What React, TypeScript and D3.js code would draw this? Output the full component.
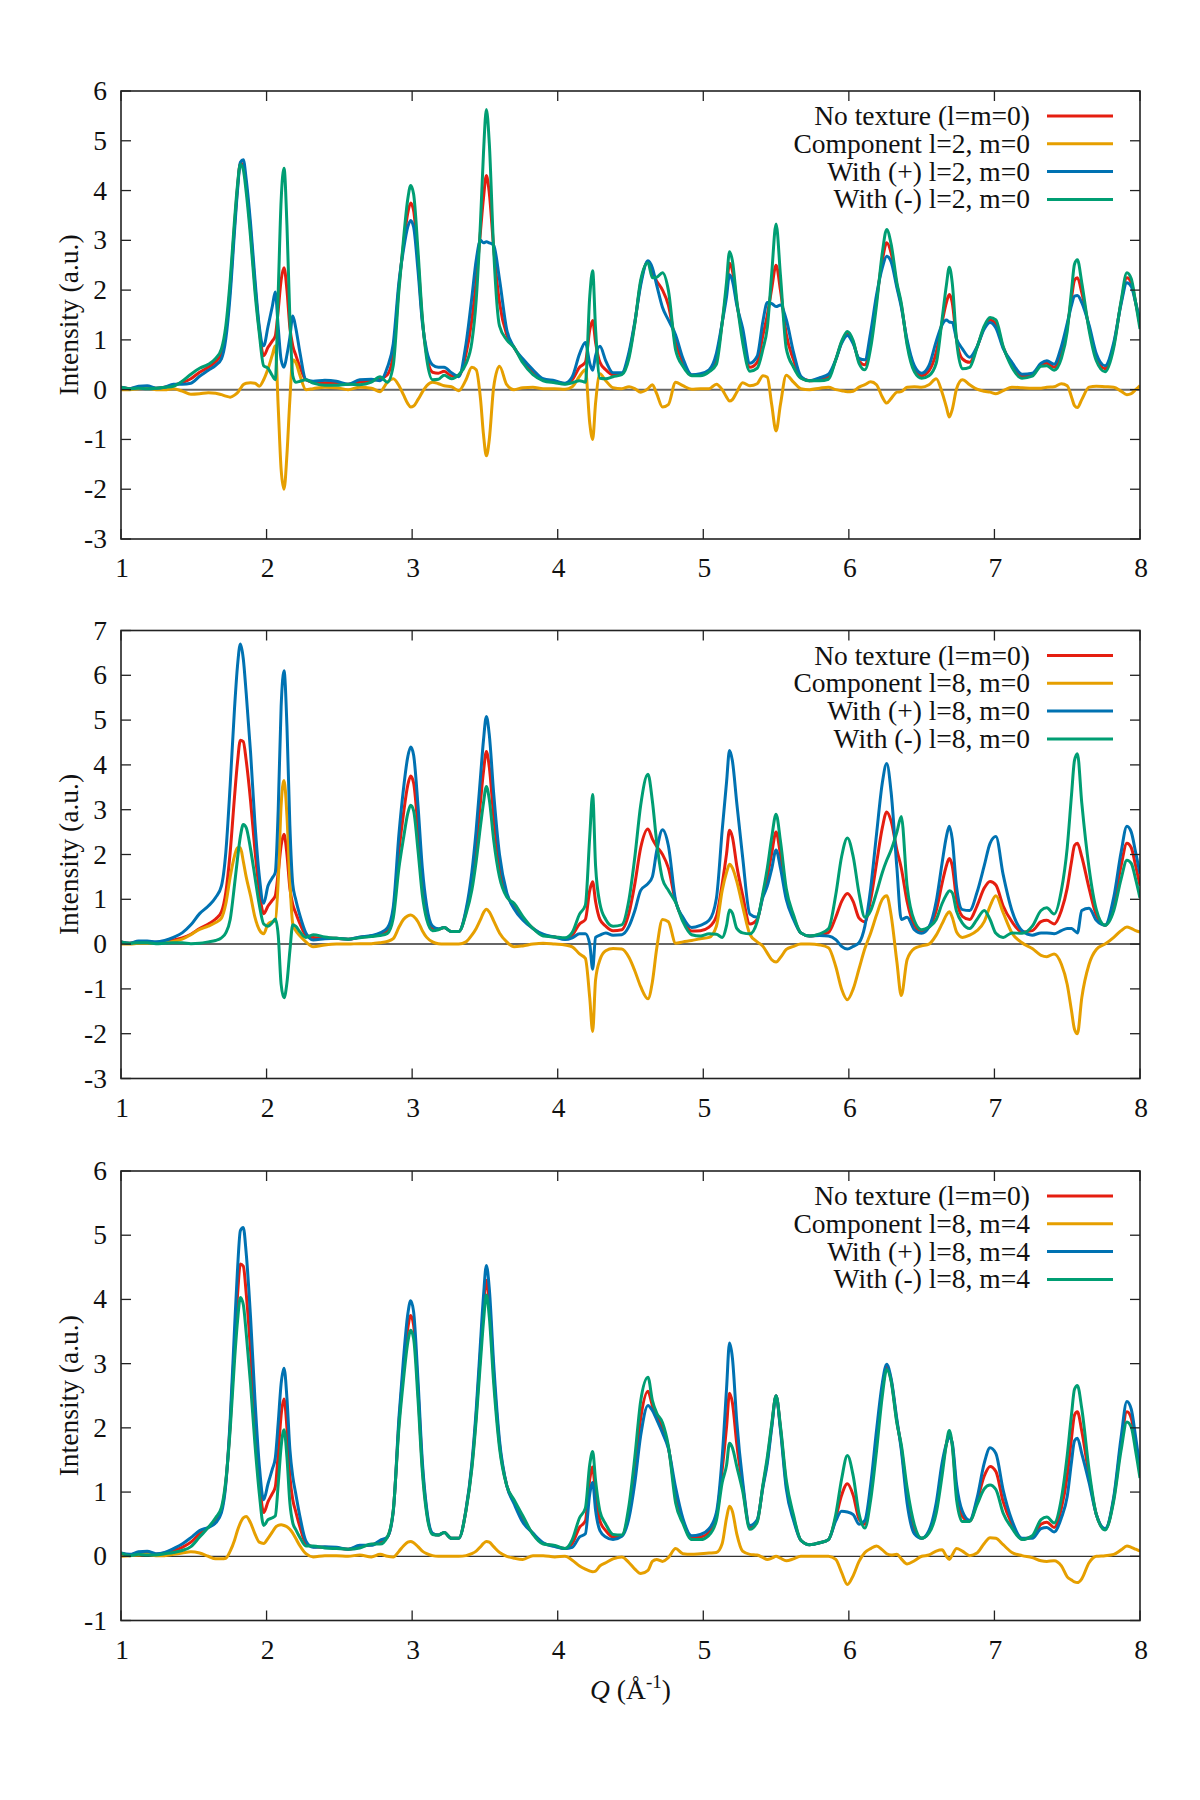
import { useEffect, useRef } from "react";
import * as d3 from "d3";

// momentum transfer grid shared by every curve (Å^-1)
const Q = [
  1.0, 1.06, 1.12, 1.18, 1.24, 1.3, 1.36, 1.42, 1.48, 1.54,
  1.6, 1.65, 1.69, 1.72, 1.75, 1.78, 1.8, 1.82, 1.84, 1.86,
  1.89, 1.92, 1.95, 1.98, 2.01, 2.04, 2.06, 2.08, 2.1, 2.12,
  2.14, 2.16, 2.18, 2.2, 2.23, 2.27, 2.32, 2.4, 2.48, 2.56,
  2.64, 2.72, 2.78, 2.83, 2.87, 2.91, 2.94, 2.97, 2.99, 3.01,
  3.04, 3.07, 3.1, 3.14, 3.18, 3.22, 3.27, 3.32, 3.37, 3.41,
  3.44, 3.47, 3.49, 3.51, 3.53, 3.56, 3.6, 3.65, 3.7, 3.76,
  3.83, 3.9, 3.98, 4.05, 4.1, 4.15, 4.19, 4.22, 4.24, 4.26,
  4.29, 4.33, 4.38, 4.44, 4.49, 4.53, 4.57, 4.62, 4.65, 4.68,
  4.72, 4.76, 4.81, 4.86, 4.92, 4.98, 5.04, 5.09, 5.13, 5.16,
  5.18, 5.2, 5.23, 5.27, 5.32, 5.37, 5.41, 5.44, 5.47, 5.5,
  5.53, 5.57, 5.62, 5.67, 5.73, 5.8, 5.86, 5.91, 5.95, 5.99,
  6.03, 6.07, 6.11, 6.15, 6.19, 6.23, 6.26, 6.29, 6.33, 6.36,
  6.4, 6.45, 6.5, 6.55, 6.6, 6.64, 6.67, 6.69, 6.71, 6.74,
  6.78, 6.83, 6.88, 6.93, 6.97, 7.01, 7.06, 7.12, 7.19, 7.26,
  7.32, 7.36, 7.41, 7.46, 7.5, 7.53, 7.55, 7.57, 7.6, 7.65,
  7.7, 7.76, 7.82, 7.87, 7.91, 7.94, 7.97, 8.0,
];

// untextured pattern, identical in all three panels
const noTexture = [
  0.05, 0.02, 0.05, 0.05, 0.03, 0.05, 0.09, 0.14, 0.22, 0.35,
  0.45, 0.56, 0.72, 1.15, 2.05, 3.3, 4.05, 4.55, 4.52, 4.1,
  3.2, 2.1, 1.2, 0.68, 0.85, 0.98, 1.08, 1.6, 2.2, 2.45,
  2.0, 1.25, 0.88, 0.7, 0.45, 0.2, 0.15, 0.14, 0.13, 0.11,
  0.15, 0.18, 0.22, 0.3, 0.7, 2.1, 2.9, 3.55, 3.75, 3.6,
  2.6, 1.4, 0.7, 0.35, 0.33, 0.37, 0.28, 0.28, 0.72, 1.4,
  2.2, 3.2, 3.85, 4.3, 3.95, 2.85, 1.75, 1.1, 0.85, 0.58,
  0.35, 0.2, 0.16, 0.12, 0.2, 0.45, 0.55, 1.2, 1.39, 0.95,
  0.55, 0.4, 0.3, 0.32, 0.7, 1.35, 2.15, 2.57, 2.35, 2.18,
  2.0, 1.7, 0.95, 0.55, 0.29, 0.3, 0.38, 0.62, 1.35, 2.02,
  2.54, 2.39, 1.75, 1.1, 0.45, 0.55, 1.1, 1.5, 2.03, 2.5,
  2.0, 1.12, 0.6, 0.25, 0.18, 0.21, 0.26, 0.6, 0.95, 1.13,
  0.95, 0.58, 0.5, 1.0, 1.8, 2.6, 2.95, 2.75, 2.1, 1.7,
  0.95, 0.42, 0.28, 0.38, 0.75, 1.35, 1.75, 1.91, 1.75, 1.0,
  0.62, 0.55, 0.85, 1.25, 1.4, 1.32, 0.85, 0.5, 0.27, 0.3,
  0.5, 0.53, 0.45, 0.75, 1.25, 1.85, 2.2, 2.25, 1.95, 1.25,
  0.65, 0.42, 0.9, 1.75, 2.25, 2.15, 1.75, 1.3,
];

// l=2, m=0
const compL2M0 = [
  0.0, 0.0, 0.02, 0.03, 0.0, 0.0, 0.02, -0.03, -0.09, -0.08,
  -0.06, -0.07, -0.1, -0.13, -0.15, -0.11, -0.06, 0.02, 0.1, 0.13,
  0.14, 0.13, 0.07, 0.2, 0.42, 0.7, 0.88, -0.35, -1.6, -2.0,
  -1.3, -0.2, 0.6, 0.55, 0.28, 0.0, 0.02, 0.05, 0.04, 0.0,
  0.05, 0.03, -0.04, 0.15, 0.22, 0.08, -0.1, -0.28, -0.35, -0.33,
  -0.2, -0.05, 0.08, 0.15, 0.12, 0.08, 0.06, -0.02, 0.2, 0.45,
  0.4, -0.2, -0.9, -1.33, -1.0, 0.05, 0.47, 0.1, 0.0, 0.04,
  0.05, 0.02, 0.02, 0.01, 0.06, 0.27, 0.4, -0.67, -1.0, -0.27,
  0.32, 0.18, 0.04, 0.02, 0.06, 0.02, -0.05, 0.02, 0.1, -0.08,
  -0.35, -0.3, 0.15, 0.08, 0.01, 0.02, 0.02, 0.11, 0.0, -0.15,
  -0.23, -0.2, -0.05, 0.14, 0.08, 0.12, 0.28, 0.25, -0.3, -0.83,
  -0.3, 0.29, 0.15, 0.02, 0.0, 0.03, 0.05, 0.0, -0.02, -0.04,
  -0.03, 0.05, 0.1, 0.16, 0.1, -0.15, -0.27, -0.18, -0.05, -0.04,
  0.05, 0.06, 0.05, 0.1, 0.22, -0.05, -0.35, -0.55, -0.4, 0.02,
  0.2, 0.1, 0.01, -0.03, -0.05, -0.08, -0.02, 0.05, 0.04, 0.03,
  0.03, 0.05, 0.06, 0.12, 0.08, -0.15, -0.32, -0.36, -0.2, 0.05,
  0.07, 0.06, 0.05, -0.03, -0.1, -0.08, 0.0, 0.08,
];
const plusL2M0 = [
  0.05, 0.02, 0.07, 0.08, 0.03, 0.05, 0.11, 0.11, 0.13, 0.27,
  0.39, 0.49, 0.62, 1.02, 1.9, 3.19, 3.99, 4.57, 4.62, 4.23,
  3.34, 2.23, 1.27, 0.88, 1.27, 1.68, 1.96, 1.25, 0.6, 0.45,
  0.7, 1.05, 1.48, 1.25, 0.73, 0.2, 0.17, 0.19, 0.17, 0.11,
  0.2, 0.21, 0.18, 0.45, 0.92, 2.18, 2.8, 3.27, 3.4, 3.27,
  2.4, 1.35, 0.78, 0.5, 0.45, 0.45, 0.34, 0.26, 0.92, 1.85,
  2.6, 3.0, 2.95, 2.97, 2.95, 2.9, 2.22, 1.2, 0.85, 0.62,
  0.4, 0.22, 0.18, 0.13, 0.26, 0.72, 0.95, 0.53, 0.39, 0.68,
  0.87, 0.58, 0.34, 0.34, 0.76, 1.37, 2.1, 2.59, 2.45, 2.1,
  1.65, 1.4, 1.1, 0.63, 0.3, 0.32, 0.4, 0.73, 1.35, 1.87,
  2.31, 2.19, 1.7, 1.24, 0.53, 0.67, 1.38, 1.75, 1.73, 1.67,
  1.7, 1.41, 0.75, 0.27, 0.18, 0.24, 0.31, 0.6, 0.93, 1.09,
  0.92, 0.63, 0.6, 1.16, 1.9, 2.45, 2.68, 2.57, 2.05, 1.66,
  1.0, 0.48, 0.33, 0.48, 0.97, 1.3, 1.4, 1.36, 1.35, 1.02,
  0.82, 0.65, 0.86, 1.22, 1.35, 1.24, 0.83, 0.55, 0.31, 0.33,
  0.53, 0.58, 0.51, 0.87, 1.33, 1.7, 1.88, 1.89, 1.75, 1.3,
  0.72, 0.48, 0.95, 1.72, 2.15, 2.07, 1.75, 1.38,
];
const minusL2M0 = [
  0.05, 0.02, 0.03, 0.02, 0.03, 0.05, 0.07, 0.17, 0.31, 0.43,
  0.51, 0.63, 0.82, 1.28, 2.2, 3.41, 4.11, 4.53, 4.42, 3.97,
  3.06, 1.97, 1.13, 0.48, 0.43, 0.28, 0.2, 1.95, 3.8, 4.45,
  3.3, 1.45, 0.28, 0.15, 0.17, 0.2, 0.13, 0.09, 0.09, 0.11,
  0.1, 0.15, 0.26, 0.15, 0.48, 2.02, 3.0, 3.83, 4.1, 3.93,
  2.8, 1.45, 0.62, 0.2, 0.21, 0.29, 0.22, 0.3, 0.52, 0.95,
  1.8, 3.4, 4.75, 5.63, 4.95, 2.8, 1.28, 1.0, 0.85, 0.54,
  0.3, 0.18, 0.14, 0.11, 0.14, 0.18, 0.15, 1.87, 2.39, 1.22,
  0.23, 0.22, 0.26, 0.3, 0.64, 1.33, 2.2, 2.55, 2.25, 2.26,
  2.35, 2.0, 0.8, 0.47, 0.28, 0.28, 0.36, 0.51, 1.35, 2.17,
  2.77, 2.59, 1.8, 0.96, 0.37, 0.43, 0.82, 1.25, 2.33, 3.33,
  2.3, 0.83, 0.45, 0.23, 0.18, 0.18, 0.21, 0.6, 0.97, 1.17,
  0.98, 0.53, 0.4, 0.84, 1.7, 2.75, 3.22, 2.93, 2.15, 1.74,
  0.9, 0.36, 0.23, 0.28, 0.53, 1.4, 2.1, 2.46, 2.15, 0.98,
  0.42, 0.45, 0.84, 1.28, 1.45, 1.4, 0.87, 0.45, 0.23, 0.27,
  0.47, 0.48, 0.39, 0.63, 1.17, 2.0, 2.52, 2.61, 2.15, 1.2,
  0.58, 0.36, 0.85, 1.78, 2.35, 2.23, 1.75, 1.22,
];

// l=8, m=0
const compL8M0 = [
  0.0, 0.0, 0.02, 0.02, 0.02, 0.03, 0.06, 0.11, 0.21, 0.33,
  0.4, 0.48, 0.58, 0.9, 1.5, 1.97, 2.15, 2.15, 1.85, 1.5,
  1.08, 0.6, 0.32, 0.23, 0.45, 0.5, 0.52, 1.4, 3.1, 3.65,
  2.86, 1.4, 0.45, 0.3, 0.18, 0.05, -0.06, -0.02, 0.0, 0.0,
  0.01, 0.01, 0.03, 0.06, 0.12, 0.38, 0.55, 0.63, 0.65, 0.62,
  0.5, 0.3, 0.15, 0.05, 0.01, 0.0, 0.0, 0.0, 0.05, 0.2,
  0.35, 0.55, 0.7, 0.78, 0.72, 0.52, 0.25, 0.05, -0.06, -0.04,
  0.0, 0.02, 0.0, -0.02, -0.06, -0.22, -0.32, -1.2, -1.95, -0.8,
  -0.35, -0.15, -0.1, -0.11, -0.3, -0.6, -0.95, -1.22, -0.85, -0.1,
  0.55, 0.5, 0.02, 0.05, 0.08, 0.12, 0.15, 0.4, 1.2, 1.6,
  1.78, 1.7, 1.4, 0.85, 0.22, 0.05, -0.05, -0.2, -0.35, -0.4,
  -0.3, -0.12, -0.05, 0.0, 0.0, -0.02, -0.08, -0.5, -1.0, -1.24,
  -1.0, -0.55, -0.1, 0.25, 0.65, 1.0, 1.08, 0.65, -0.4, -1.15,
  -0.35, -0.1, -0.04, 0.0, 0.2, 0.45, 0.65, 0.72, 0.6, 0.27,
  0.15, 0.2, 0.3, 0.5, 0.85, 1.08, 0.7, 0.25, 0.03, -0.1,
  -0.25, -0.28, -0.22, -0.45, -0.9, -1.5, -1.9, -2.0, -1.2, -0.45,
  -0.12, 0.0, 0.15, 0.3, 0.38, 0.35, 0.3, 0.27,
];
const plusL8M0 = [
  0.05, 0.02, 0.07, 0.07, 0.05, 0.08, 0.15, 0.25, 0.43, 0.68,
  0.85, 1.04, 1.3, 2.05, 3.55, 5.27, 6.2, 6.7, 6.37, 5.6,
  4.28, 2.7, 1.52, 0.91, 1.3, 1.48, 1.6, 3.0, 5.3, 6.1,
  4.86, 2.65, 1.33, 1.0, 0.63, 0.25, 0.09, 0.12, 0.13, 0.11,
  0.16, 0.19, 0.25, 0.36, 0.82, 2.48, 3.45, 4.18, 4.4, 4.22,
  3.1, 1.7, 0.85, 0.4, 0.34, 0.37, 0.28, 0.28, 0.77, 1.6,
  2.55, 3.75, 4.55, 5.08, 4.67, 3.37, 2.0, 1.15, 0.79, 0.54,
  0.35, 0.22, 0.16, 0.1, 0.14, 0.23, 0.23, 0.0, -0.56, 0.15,
  0.2, 0.25, 0.2, 0.21, 0.4, 0.75, 1.2, 1.35, 1.5, 2.08,
  2.55, 2.2, 0.97, 0.6, 0.37, 0.42, 0.53, 1.02, 2.55, 3.62,
  4.32, 4.09, 3.15, 1.95, 0.67, 0.6, 1.05, 1.3, 1.68, 2.1,
  1.7, 1.0, 0.55, 0.25, 0.18, 0.19, 0.18, 0.1, -0.05, -0.11,
  -0.05, 0.03, 0.4, 1.25, 2.45, 3.6, 4.03, 3.4, 1.7, 0.55,
  0.6, 0.32, 0.24, 0.38, 0.95, 1.8, 2.4, 2.63, 2.35, 1.27,
  0.77, 0.75, 1.15, 1.75, 2.25, 2.4, 1.55, 0.75, 0.3, 0.2,
  0.25, 0.25, 0.23, 0.3, 0.35, 0.35, 0.3, 0.25, 0.75, 0.8,
  0.53, 0.42, 1.05, 2.05, 2.63, 2.5, 2.05, 1.57,
];
const minusL8M0 = [
  0.05, 0.02, 0.03, 0.03, 0.01, 0.02, 0.03, 0.03, 0.01, 0.02,
  0.05, 0.08, 0.14, 0.25, 0.55, 1.33, 1.9, 2.4, 2.67, 2.6,
  2.12, 1.5, 0.88, 0.45, 0.4, 0.48, 0.56, 0.2, -0.9, -1.2,
  -0.86, -0.15, 0.43, 0.4, 0.27, 0.15, 0.21, 0.16, 0.13, 0.11,
  0.14, 0.17, 0.19, 0.24, 0.58, 1.72, 2.35, 2.92, 3.1, 2.98,
  2.1, 1.1, 0.55, 0.3, 0.32, 0.37, 0.28, 0.28, 0.67, 1.2,
  1.85, 2.65, 3.15, 3.52, 3.23, 2.33, 1.5, 1.05, 0.91, 0.62,
  0.35, 0.18, 0.16, 0.14, 0.26, 0.67, 0.87, 2.4, 3.34, 1.75,
  0.9, 0.55, 0.4, 0.43, 1.0, 1.95, 3.1, 3.79, 3.2, 2.28,
  1.45, 1.2, 0.93, 0.5, 0.21, 0.18, 0.23, 0.22, 0.15, 0.42,
  0.76, 0.69, 0.35, 0.25, 0.23, 0.5, 1.15, 1.7, 2.38, 2.9,
  2.3, 1.24, 0.65, 0.25, 0.18, 0.23, 0.34, 1.1, 1.95, 2.37,
  1.95, 1.13, 0.6, 0.75, 1.15, 1.6, 1.87, 2.1, 2.5, 2.85,
  1.3, 0.52, 0.32, 0.38, 0.55, 0.9, 1.1, 1.19, 1.15, 0.73,
  0.47, 0.35, 0.55, 0.75, 0.55, 0.24, 0.15, 0.25, 0.24, 0.4,
  0.75, 0.81, 0.67, 1.2, 2.15, 3.35, 4.1, 4.25, 3.15, 1.7,
  0.77, 0.42, 0.75, 1.45, 1.87, 1.8, 1.45, 1.03,
];

// l=8, m=4
const compL8M4 = [
  0.0, 0.01, 0.02, 0.03, 0.01, 0.01, 0.03, 0.05, 0.07, 0.05,
  0.0, -0.04, -0.04, -0.03, 0.08, 0.25, 0.4, 0.52, 0.6, 0.62,
  0.52, 0.35, 0.22, 0.2, 0.28, 0.38, 0.45, 0.48, 0.49, 0.48,
  0.46, 0.42, 0.36, 0.28, 0.16, 0.04, -0.01, 0.01, 0.01, 0.0,
  0.02, -0.01, 0.03, 0.0, -0.01, 0.08, 0.16, 0.22, 0.23, 0.21,
  0.15, 0.08, 0.04, 0.01, 0.0, 0.0, 0.0, 0.0, 0.01, 0.04,
  0.08, 0.15, 0.2, 0.23, 0.22, 0.15, 0.06, 0.0, -0.03, -0.05,
  0.01, 0.01, -0.01, 0.0, -0.06, -0.15, -0.2, -0.23, -0.24, -0.23,
  -0.15, -0.1, -0.04, -0.01, -0.1, -0.2, -0.27, -0.22, -0.08, -0.05,
  -0.08, -0.02, 0.12, 0.04, 0.03, 0.04, 0.05, 0.06, 0.2, 0.6,
  0.78, 0.7, 0.35, 0.08, 0.03, 0.02, -0.02, -0.05, -0.03, 0.0,
  -0.03, -0.07, -0.04, 0.0, 0.0, 0.0, 0.0, -0.05, -0.25, -0.44,
  -0.3, -0.08, 0.06, 0.12, 0.16, 0.1, 0.04, 0.02, 0.03, -0.04,
  -0.12, -0.07, 0.0, 0.02, 0.08, 0.1, 0.0, -0.05, 0.02, 0.12,
  0.08, 0.01, 0.05, 0.2, 0.29, 0.28, 0.18, 0.06, 0.01, -0.02,
  -0.07, -0.08, -0.07, -0.15, -0.32, -0.37, -0.4, -0.41, -0.35, -0.1,
  0.0, 0.01, 0.03, 0.1, 0.16, 0.14, 0.11, 0.08,
];
const plusL8M4 = [
  0.05, 0.03, 0.07, 0.08, 0.04, 0.06, 0.12, 0.19, 0.29, 0.4,
  0.45, 0.52, 0.68, 1.12, 2.13, 3.55, 4.45, 5.07, 5.12, 4.72,
  3.72, 2.45, 1.42, 0.88, 1.13, 1.36, 1.53, 2.08, 2.69, 2.93,
  2.46, 1.67, 1.24, 0.98, 0.61, 0.24, 0.14, 0.15, 0.14, 0.11,
  0.17, 0.17, 0.25, 0.3, 0.69, 2.18, 3.06, 3.77, 3.98, 3.81,
  2.75, 1.48, 0.74, 0.36, 0.33, 0.37, 0.28, 0.28, 0.73, 1.44,
  2.28, 3.35, 4.05, 4.53, 4.17, 3.0, 1.81, 1.1, 0.82, 0.53,
  0.36, 0.21, 0.15, 0.12, 0.14, 0.3, 0.35, 0.97, 1.15, 0.72,
  0.4, 0.3, 0.26, 0.31, 0.6, 1.15, 1.88, 2.35, 2.27, 2.13,
  1.92, 1.68, 1.07, 0.59, 0.32, 0.34, 0.43, 0.68, 1.55, 2.62,
  3.32, 3.09, 2.1, 1.18, 0.48, 0.57, 1.08, 1.45, 2.0, 2.5,
  1.97, 1.05, 0.56, 0.25, 0.18, 0.21, 0.26, 0.55, 0.7, 0.69,
  0.65, 0.5, 0.56, 1.12, 1.96, 2.7, 2.99, 2.77, 2.13, 1.66,
  0.83, 0.35, 0.28, 0.4, 0.83, 1.45, 1.75, 1.86, 1.77, 1.12,
  0.7, 0.56, 0.9, 1.45, 1.69, 1.6, 1.03, 0.56, 0.28, 0.28,
  0.43, 0.45, 0.38, 0.6, 0.93, 1.48, 1.8, 1.84, 1.6, 1.15,
  0.65, 0.43, 0.93, 1.85, 2.41, 2.29, 1.86, 1.38,
];
const minusL8M4 = [
  0.05, 0.01, 0.03, 0.02, 0.02, 0.04, 0.06, 0.09, 0.15, 0.3,
  0.45, 0.6, 0.76, 1.18, 1.97, 3.05, 3.65, 4.03, 3.92, 3.48,
  2.68, 1.75, 0.98, 0.48, 0.57, 0.6, 0.63, 1.12, 1.71, 1.97,
  1.54, 0.83, 0.52, 0.42, 0.29, 0.16, 0.16, 0.13, 0.12, 0.11,
  0.13, 0.19, 0.19, 0.3, 0.71, 2.02, 2.74, 3.33, 3.52, 3.39,
  2.45, 1.32, 0.66, 0.34, 0.33, 0.37, 0.28, 0.28, 0.71, 1.36,
  2.12, 3.05, 3.65, 4.07, 3.73, 2.7, 1.69, 1.1, 0.88, 0.63,
  0.34, 0.19, 0.17, 0.12, 0.26, 0.6, 0.75, 1.43, 1.63, 1.18,
  0.7, 0.5, 0.34, 0.33, 0.8, 1.55, 2.42, 2.79, 2.43, 2.23,
  2.08, 1.72, 0.83, 0.51, 0.26, 0.26, 0.33, 0.56, 1.15, 1.42,
  1.76, 1.69, 1.4, 1.02, 0.42, 0.53, 1.12, 1.55, 2.06, 2.5,
  2.03, 1.19, 0.64, 0.25, 0.18, 0.21, 0.26, 0.65, 1.2, 1.57,
  1.25, 0.66, 0.44, 0.88, 1.64, 2.5, 2.91, 2.73, 2.07, 1.74,
  1.07, 0.49, 0.28, 0.36, 0.67, 1.25, 1.75, 1.96, 1.73, 0.88,
  0.54, 0.54, 0.8, 1.05, 1.11, 1.04, 0.67, 0.44, 0.26, 0.32,
  0.57, 0.61, 0.52, 0.9, 1.57, 2.22, 2.6, 2.66, 2.3, 1.35,
  0.65, 0.41, 0.87, 1.65, 2.09, 2.01, 1.64, 1.22,
];

const xTicks = [1, 2, 3, 4, 5, 6, 7, 8];
const yTicksL2M0 = [-3, -2, -1, 0, 1, 2, 3, 4, 5, 6];
const yTicksL8M0 = [-3, -2, -1, 0, 1, 2, 3, 4, 5, 6, 7];
const yTicksL8M4 = [-1, 0, 1, 2, 3, 4, 5, 6];

const labelsL2M0 = ["No texture (l=m=0)", "Component l=2, m=0", "With (+) l=2, m=0", "With (-) l=2, m=0"];
const labelsL8M0 = ["No texture (l=m=0)", "Component l=8, m=0", "With (+) l=8, m=0", "With (-) l=8, m=0"];
const labelsL8M4 = ["No texture (l=m=0)", "Component l=8, m=4", "With (+) l=8, m=4", "With (-) l=8, m=4"];

const COLORS = ["#e51e10", "#e69f00", "#0072b2", "#009e73"];
const FONT = "'Liberation Serif', 'Times New Roman', Times, serif";
const FS = 27.5;

const panels = [
  {
    top: 91, bottom: 539, yTicks: yTicksL2M0, labels: labelsL2M0,
    series: [noTexture, compL2M0, plusL2M0, minusL2M0],
    zeroColor: "#666", zeroWidth: 2,
  },
  {
    top: 630.5, bottom: 1078.5, yTicks: yTicksL8M0, labels: labelsL8M0,
    series: [noTexture, compL8M0, plusL8M0, minusL8M0],
    zeroColor: "#666", zeroWidth: 2,
  },
  {
    top: 1171, bottom: 1620.5, yTicks: yTicksL8M4, labels: labelsL8M4,
    series: [noTexture, compL8M4, plusL8M4, minusL8M4],
    zeroColor: "#333", zeroWidth: 1.3,
  },
];

export default function App() {
  const ref = useRef<SVGSVGElement | null>(null);

  useEffect(() => {
    const svg = d3.select(ref.current);
    svg.selectAll("*").remove();

    const left = 121;
    const right = 1140;
    const x = d3.scaleLinear().domain([1, 8]).range([left, right]);
    const defs = svg.append("defs");

    panels.forEach((p, pi) => {
      const yt = p.yTicks;
      const y = d3
        .scaleLinear()
        .domain([yt[0], yt[yt.length - 1]])
        .range([p.bottom, p.top]);
      const g = svg.append("g");

      const clipId = `plot-clip-${pi}`;
      defs
        .append("clipPath")
        .attr("id", clipId)
        .append("rect")
        .attr("x", left)
        .attr("y", p.top)
        .attr("width", right - left)
        .attr("height", p.bottom - p.top);

      // y = 0 reference
      g.append("line")
        .attr("x1", left)
        .attr("x2", right)
        .attr("y1", y(0))
        .attr("y2", y(0))
        .attr("stroke", p.zeroColor)
        .attr("stroke-width", p.zeroWidth);

      const line = d3
        .line<number>()
        .x((_, i) => x(Q[i]))
        .y((d) => y(d))
        .curve(d3.curveMonotoneX);

      const curves = g.append("g").attr("clip-path", `url(#${clipId})`);
      p.series.forEach((s, si) => {
        curves
          .append("path")
          .attr("d", line(s) ?? "")
          .attr("fill", "none")
          .attr("stroke", COLORS[si])
          .attr("stroke-width", 3)
          .attr("stroke-linejoin", "round");
      });

      // frame with inward ticks on all four sides
      g.append("rect")
        .attr("x", left)
        .attr("y", p.top)
        .attr("width", right - left)
        .attr("height", p.bottom - p.top)
        .attr("fill", "none")
        .attr("stroke", "#222")
        .attr("stroke-width", 1.6);

      xTicks.forEach((t) => {
        const px = x(t);
        g.append("line").attr("x1", px).attr("x2", px).attr("y1", p.bottom).attr("y2", p.bottom - 10)
          .attr("stroke", "#222").attr("stroke-width", 1.3);
        g.append("line").attr("x1", px).attr("x2", px).attr("y1", p.top).attr("y2", p.top + 10)
          .attr("stroke", "#222").attr("stroke-width", 1.3);
        g.append("text")
          .attr("x", px + 1)
          .attr("y", p.bottom + 38)
          .attr("text-anchor", "middle")
          .attr("font-family", FONT)
          .attr("font-size", FS)
          .attr("fill", "#111")
          .text(String(t));
      });

      yt.forEach((t) => {
        const py = y(t);
        g.append("line").attr("x1", left).attr("x2", left + 10).attr("y1", py).attr("y2", py)
          .attr("stroke", "#222").attr("stroke-width", 1.3);
        g.append("line").attr("x1", right).attr("x2", right - 10).attr("y1", py).attr("y2", py)
          .attr("stroke", "#222").attr("stroke-width", 1.3);
        g.append("text")
          .attr("x", left - 14)
          .attr("y", py + 9)
          .attr("text-anchor", "end")
          .attr("font-family", FONT)
          .attr("font-size", FS)
          .attr("fill", "#111")
          .text(String(t));
      });

      g.append("text")
        .attr("transform", `translate(78,${(p.top + p.bottom) / 2}) rotate(-90)`)
        .attr("text-anchor", "middle")
        .attr("font-family", FONT)
        .attr("font-size", FS)
        .attr("fill", "#111")
        .text("Intensity (a.u.)");

      // key, top right
      p.labels.forEach((lab, li) => {
        const ly = p.top + 25 + li * 27.8;
        g.append("text")
          .attr("x", 1030)
          .attr("y", ly + 9)
          .attr("text-anchor", "end")
          .attr("font-family", FONT)
          .attr("font-size", FS)
          .attr("fill", "#111")
          .text(lab);
        g.append("line")
          .attr("x1", 1047)
          .attr("x2", 1113)
          .attr("y1", ly)
          .attr("y2", ly)
          .attr("stroke", COLORS[li])
          .attr("stroke-width", 3);
      });
    });

    const xt = svg
      .append("text")
      .attr("x", (left + right) / 2)
      .attr("y", 1699)
      .attr("text-anchor", "middle")
      .attr("font-family", FONT)
      .attr("font-size", FS)
      .attr("fill", "#111");
    xt.append("tspan").attr("font-style", "italic").text("Q");
    xt.append("tspan").text(" (Å");
    xt.append("tspan").attr("font-size", 19).attr("dy", -11).text("-1");
    xt.append("tspan").attr("dy", 11).text(")");
  }, []);

  return (
    <svg
      ref={ref}
      width={1200}
      height={1800}
      style={{ position: "absolute", left: 0, top: 0, background: "#fff" }}
    />
  );
}
